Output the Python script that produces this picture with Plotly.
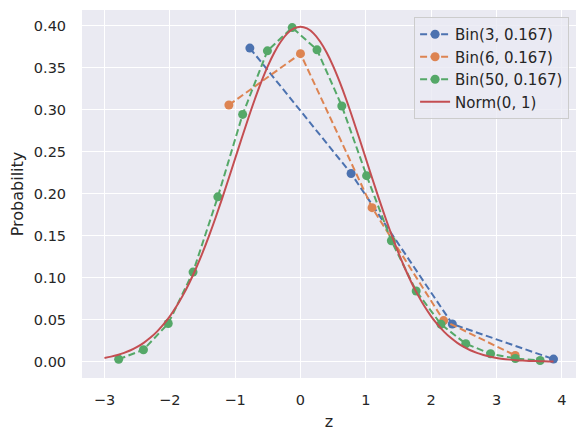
import plotly.graph_objects as go

# Bin(3, 1/6): standardized z and scaled probability
z_bin3 = [-0.7746, 0.7746, 2.3238, 3.8730]
p_bin3 = [0.37354, 0.22412, 0.04482, 0.00299]

# Bin(6, 1/6)
z_bin6 = [-1.0954, 0.0, 1.0954, 2.1909, 3.2863]
p_bin6 = [0.30572, 0.36686, 0.18343, 0.04892, 0.00734]

# Bin(50, 1/6)
z_bin50 = [-2.7828, -2.4033, -2.0239, -1.6444, -1.2649, -0.8855, -0.5060, -0.1265,
           0.2530, 0.6325, 1.0119, 1.3914, 1.7709, 2.1503, 2.5298, 2.9093, 3.2887, 3.6682]
p_bin50 = [0.00290, 0.01419, 0.04540, 0.10670, 0.19633, 0.29449, 0.37022, 0.39798,
           0.37145, 0.30458, 0.22152, 0.14399, 0.08418, 0.04449, 0.02136, 0.00934, 0.00374, 0.00137]

# Norm(0, 1) density
z_norm = [-3.0, -2.9, -2.8, -2.7, -2.6, -2.5, -2.4, -2.3, -2.2, -2.1, -2.0, -1.9, -1.8, -1.7,
          -1.6, -1.5, -1.4, -1.3, -1.2, -1.1, -1.0, -0.9, -0.8, -0.7, -0.6, -0.5, -0.4, -0.3,
          -0.2, -0.1, 0.0, 0.1, 0.2, 0.3, 0.4, 0.5, 0.6, 0.7, 0.8, 0.9, 1.0, 1.1, 1.2, 1.3,
          1.4, 1.5, 1.6, 1.7, 1.8, 1.9, 2.0, 2.1, 2.2, 2.3, 2.4, 2.5, 2.6, 2.7, 2.8, 2.9,
          3.0, 3.1, 3.2, 3.3, 3.4, 3.5, 3.6, 3.7, 3.8, 3.873]
p_norm = [0.004432, 0.005953, 0.007915, 0.010421, 0.013583, 0.017528, 0.022395, 0.028327,
          0.035475, 0.043984, 0.053991, 0.065616, 0.078950, 0.094049, 0.110921, 0.129518,
          0.149727, 0.171369, 0.194186, 0.217852, 0.241971, 0.266085, 0.289692, 0.312254,
          0.333225, 0.352065, 0.368270, 0.381388, 0.391043, 0.396953, 0.398942, 0.396953,
          0.391043, 0.381388, 0.368270, 0.352065, 0.333225, 0.312254, 0.289692, 0.266085,
          0.241971, 0.217852, 0.194186, 0.171369, 0.149727, 0.129518, 0.110921, 0.094049,
          0.078950, 0.065616, 0.053991, 0.043984, 0.035475, 0.028327, 0.022395, 0.017528,
          0.013583, 0.010421, 0.007915, 0.005953, 0.004432, 0.003267, 0.002384, 0.001723,
          0.001232, 0.000873, 0.000612, 0.000425, 0.000292, 0.000224]

names = ["Bin(3, 0.167)", "Bin(6, 0.167)", "Bin(50, 0.167)", "Norm(0, 1)"]
colors = ["#4C72B0", "#DD8452", "#55A868", "#C44E52"]

fig = go.Figure()
for zs, ps, name, col in [(z_bin3, p_bin3, names[0], colors[0]),
                          (z_bin6, p_bin6, names[1], colors[1]),
                          (z_bin50, p_bin50, names[2], colors[2])]:
    fig.add_trace(go.Scatter(x=zs, y=ps, name=name, mode="lines+markers",
                             line=dict(color=col, width=2, dash="7px,3.5px"),
                             marker=dict(color=col, size=9)))
fig.add_trace(go.Scatter(x=z_norm, y=p_norm, name=names[3], mode="lines",
                         line=dict(color=colors[3], width=2, shape="spline")))

font_family = "DejaVu Sans"
fig.update_layout(
    width=578, height=433,
    margin=dict(l=74, r=10, t=2, b=63),
    paper_bgcolor="white", plot_bgcolor="#EAEAF2",
    font=dict(family=font_family, color="#262626", size=14),
    showlegend=True,
    legend=dict(x=0.986, y=0.981, xanchor="right", yanchor="top",
                bgcolor="rgba(234,234,242,0.8)", bordercolor="#CCCCCC", borderwidth=1,
                font=dict(size=15, color="#262626"), tracegroupgap=0, itemwidth=30),
)
fig.update_xaxes(range=[-3.344, 4.217], tickvals=[-3, -2, -1, 0, 1, 2, 3, 4],
                 ticktext=["\u22123", "\u22122", "\u22121", "0", "1", "2", "3", "4"],
                 gridcolor="white", gridwidth=1.3, zeroline=False, showline=False,
                 ticks="outside", ticklen=9, tickcolor="rgba(0,0,0,0)", automargin=False,
                 title=dict(text="z", font=dict(size=16), standoff=8),
                 tickfont=dict(size=14.5))
fig.update_yaxes(range=[-0.0195, 0.4189],
                 tickvals=[0, 0.05, 0.1, 0.15, 0.2, 0.25, 0.3, 0.35, 0.4],
                 ticktext=["0.00", "0.05", "0.10", "0.15", "0.20", "0.25", "0.30", "0.35", "0.40"],
                 gridcolor="white", gridwidth=1.3, zeroline=False, showline=False,
                 ticks="outside", ticklen=12, tickcolor="rgba(0,0,0,0)", automargin=False,
                 title=dict(text="Probability", font=dict(size=16), standoff=8),
                 tickfont=dict(size=14.5))

fig.write_html("out.html")
